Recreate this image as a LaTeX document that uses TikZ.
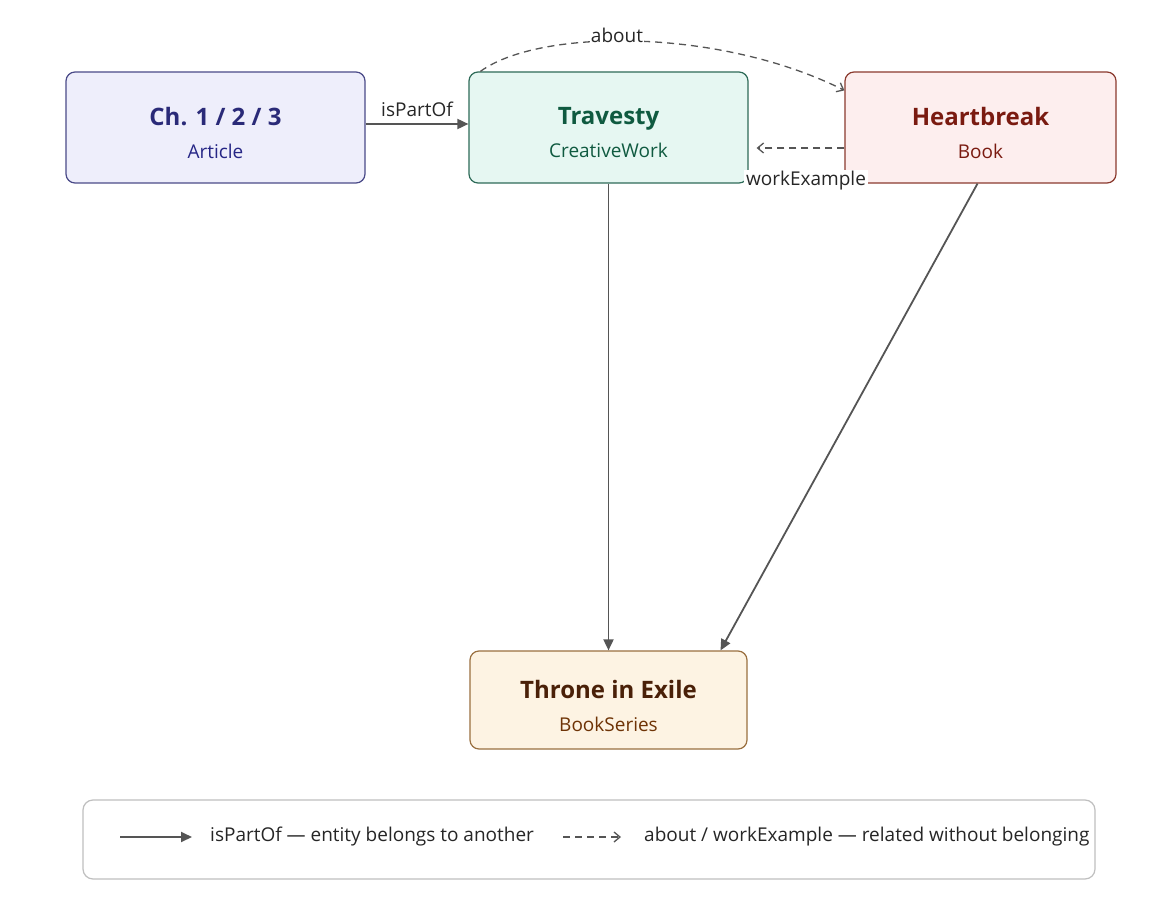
\documentclass[tikz,border=0pt]{standalone}
\usepackage{fontspec}
\setmainfont{Open Sans}
\usetikzlibrary{arrows.meta}
\definecolor{artfill}{HTML}{EEEEFB}\definecolor{artdraw}{HTML}{4A4A88}\definecolor{arttxt}{HTML}{2A2A78}
\definecolor{trafill}{HTML}{E6F7F2}\definecolor{tradraw}{HTML}{2E6B58}\definecolor{tratxt}{HTML}{0F5A40}
\definecolor{heafill}{HTML}{FDEEEE}\definecolor{headraw}{HTML}{8B3A2E}\definecolor{heatxt}{HTML}{7A1A10}
\definecolor{thrfill}{HTML}{FDF3E3}\definecolor{thrdraw}{HTML}{9A7040}\definecolor{thrtxt}{HTML}{4A2008}
\definecolor{edge}{HTML}{555555}
\newcommand{\ttlf}{\fontsize{24}{33}\selectfont\bfseries}
\newcommand{\subf}{\fontsize{19}{33}\selectfont}
\newcommand{\low}[1]{\raisebox{-5.5pt}[\height][\depth]{#1}}
\tikzset{
  entity/.style={rounded corners=9pt, line width=1.2pt, minimum height=111pt, align=center, inner sep=0pt,
    font=\fontsize{19}{33}\selectfont},
  rel/.style={draw=edge, line width=1.8pt, -{Triangle[length=11pt,width=10pt]}},
  dashrel/.style={draw=edge, line width=1.3pt, dash pattern=on 7pt off 5pt, -{Straight Barb[length=6pt,width=10pt]}},
  lbl/.style={font=\fontsize{19}{23}\selectfont, text=black!85, inner sep=1pt},
}
\begin{document}
\begin{tikzpicture}[x=1pt,y=-1pt]
\useasboundingbox[fill=white] (0,0) rectangle (1167,912);
\node[entity, fill=artfill, draw=artdraw, minimum width=299pt] (art) at (215.5,127.5)
  {\low{\textcolor{arttxt}{\ttlf Ch. 1 / 2 / 3}}\\\low{\textcolor{arttxt!90!blue}{\subf Article}}};
\node[entity, fill=trafill, draw=tradraw, minimum width=279pt] (tra) at (608.5,127.5)
  {\low{\textcolor{tratxt}{\ttlf Travesty}}\\\low{\textcolor{tratxt}{\subf CreativeWork}}};
\node[entity, fill=heafill, draw=headraw, minimum width=271pt] (hea) at (980.5,127.5)
  {\low{\textcolor{heatxt}{\ttlf Heartbreak}}\\\low{\textcolor{heatxt}{\subf Book}}};
\node[entity, fill=thrfill, draw=thrdraw, minimum width=277pt, minimum height=98pt] (thr) at (608.5,700)
  {\low{\textcolor{thrtxt}{\ttlf Throne in Exile}}\\\low{\textcolor{thrtxt!80!orange}{\subf BookSeries}}};
% edges
\draw[rel] (art.east |- 0,124) -- node[lbl, above=5pt] {isPartOf} (tra.west |- 0,124);
\draw[rel] (tra.south) -- (thr.north);
\draw[rel] ([xshift=-3pt]hea.south) -- ([xshift=112pt]thr.north);
\draw[dashrel] ([xshift=12pt]tra.north west) .. controls (540,28) and (720,28) .. ([yshift=-19pt]hea.north west);
\node[lbl, fill=white] (aboutlbl) at (617,35) {about};
\draw[dashrel] (hea.west |- 0,148) -- ([xshift=8pt]tra.east |- 0,148);
\node[lbl, fill=white, inner xsep=2pt] (welbl) at (806,181) {workExample};
% legend
\node[draw=black!25, line width=1.2pt, rounded corners=10pt, minimum width=1012pt, minimum height=79pt] (leg) at (589,839.5) {};
\coordinate (l1a) at (120,837); \coordinate (l1b) at (192,837);
\draw[rel] (l1a) -- (l1b);
\node[lbl, anchor=west] (leg1) at (209,837) {isPartOf — entity belongs to another};
\coordinate (l2a) at (563,837); \coordinate (l2b) at (621,837);
\draw[dashrel] (l2a) -- (l2b);
\node[lbl, anchor=west] (leg2) at (643,837) {about / workExample — related without belonging};
\end{tikzpicture}
\end{document}
